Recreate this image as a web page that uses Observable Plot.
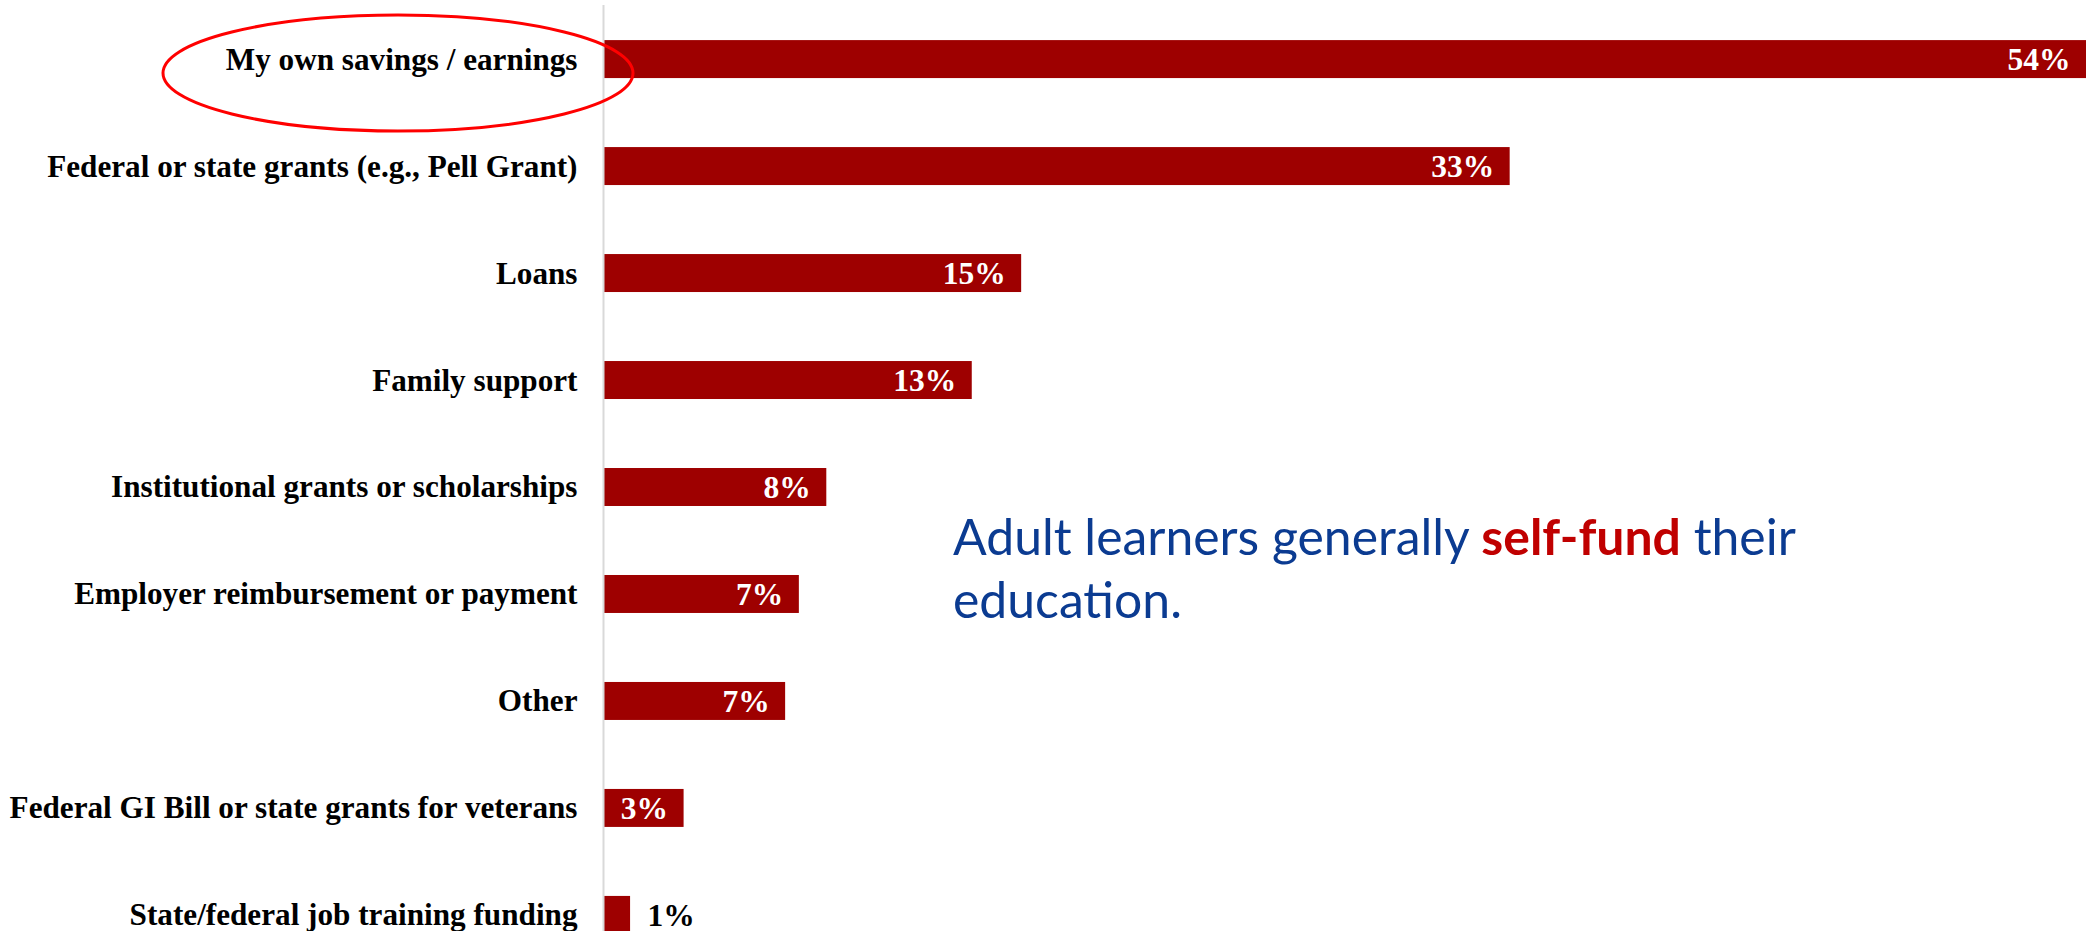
<!DOCTYPE html>
<html>
<head>
<meta charset="utf-8">
<script src="https://cdn.jsdelivr.net/npm/d3@7"></script>
<script src="https://cdn.jsdelivr.net/npm/@observablehq/plot@0.6"></script>
<style>
  html, body { margin: 0; padding: 0; background: #fff; overflow: hidden; }
  #chart svg { display: block; }
</style>
</head>
<body>
<div id="chart"></div>
<script>
// ---- Data ----
const categories = [
  "My own savings / earnings",
  "Federal or state grants (e.g., Pell Grant)",
  "Loans",
  "Family support",
  "Institutional grants or scholarships",
  "Employer reimbursement or payment",
  "Other",
  "Federal GI Bill or state grants for veterans",
  "State/federal job training funding"
];
const values = [54, 33, 15.2, 13.4, 8.1, 7.1, 6.6, 2.9, 0.95];
const valueLabels = ["54%", "33%", "15%", "13%", "8%", "7%", "7%", "3%", "1%"];
const annotationLine1 = ["Adult learners generally ", "self-fund", " their"];
const annotationLine2 = "education.";

const data = categories.map((c, i) => ({category: c, value: values[i], label: valueLabels[i]}));

const serif = "'Liberation Serif', 'DejaVu Serif', serif";
const barColor = "#9e0000";

const plot = Plot.plot({
  width: 2090,
  height: 931,
  marginLeft: 604,
  marginRight: 4,
  marginTop: 5,
  marginBottom: 0,
  style: {background: "#fff", fontFamily: serif, fontSize: "31.2px", fontWeight: "bold", color: "#000"},
  x: {domain: [0, 54], axis: null},
  y: {domain: categories, range: [8, 966], paddingInner: 0.645, paddingOuter: 0.3, round: false, label: null, axis: null},
  marks: [
    Plot.barX(data, {x: "value", y: "category", fill: barColor}),
    Plot.ruleX([0], {stroke: "#d9d9d9", strokeWidth: 2, dx: -1}),
    Plot.axisY({tickSize: 0, tickPadding: 27, label: null, fontSize: 31.2, fontWeight: "bold", fontFamily: serif, fill: "#000"}),
    Plot.text(data.filter(d => d.value >= 2), {
      x: "value", y: "category", text: "label", textAnchor: "end", dx: -16,
      fill: "#fff", fontSize: 31.5, fontWeight: "bold", fontFamily: serif
    }),
    Plot.text(data.filter(d => d.value < 2), {
      x: "value", y: "category", text: "label", textAnchor: "start", dx: 17,
      fill: "#000", fontSize: 31.5, fontWeight: "bold", fontFamily: serif
    })
  ]
});

document.getElementById("chart").appendChild(plot);

// ---- Annotations ----
const svg = d3.select(plot);
const ann = svg.append("g")
  .attr("font-family", "Lato, 'Open Sans', sans-serif")
  .attr("font-size", 44)
  .attr("font-weight", "normal")
  .attr("text-anchor", "start")
  .attr("fill", "#0b3b91");

const t1 = ann.append("text").attr("x", 953).attr("y", 555).attr("text-anchor", "start");
annotationLine1.forEach((s, i) => {
  const ts = t1.append("tspan").text(s);
  if (i === 1) ts.attr("fill", "#c00000").attr("font-weight", "bold");
});
ann.append("text").attr("x", 953).attr("y", 618).attr("text-anchor", "start").text(annotationLine2);

// fit first line to reference width
const target = 843;
const w = t1.node().getComputedTextLength();
if (w > 0) {
  ann.attr("font-size", 44 * target / w);
}

// red highlight ellipse around top category label
svg.append("ellipse")
  .attr("cx", 398).attr("cy", 73).attr("rx", 235).attr("ry", 58)
  .attr("fill", "none").attr("stroke", "#ff0000").attr("stroke-width", 3);
</script>
</body>
</html>
